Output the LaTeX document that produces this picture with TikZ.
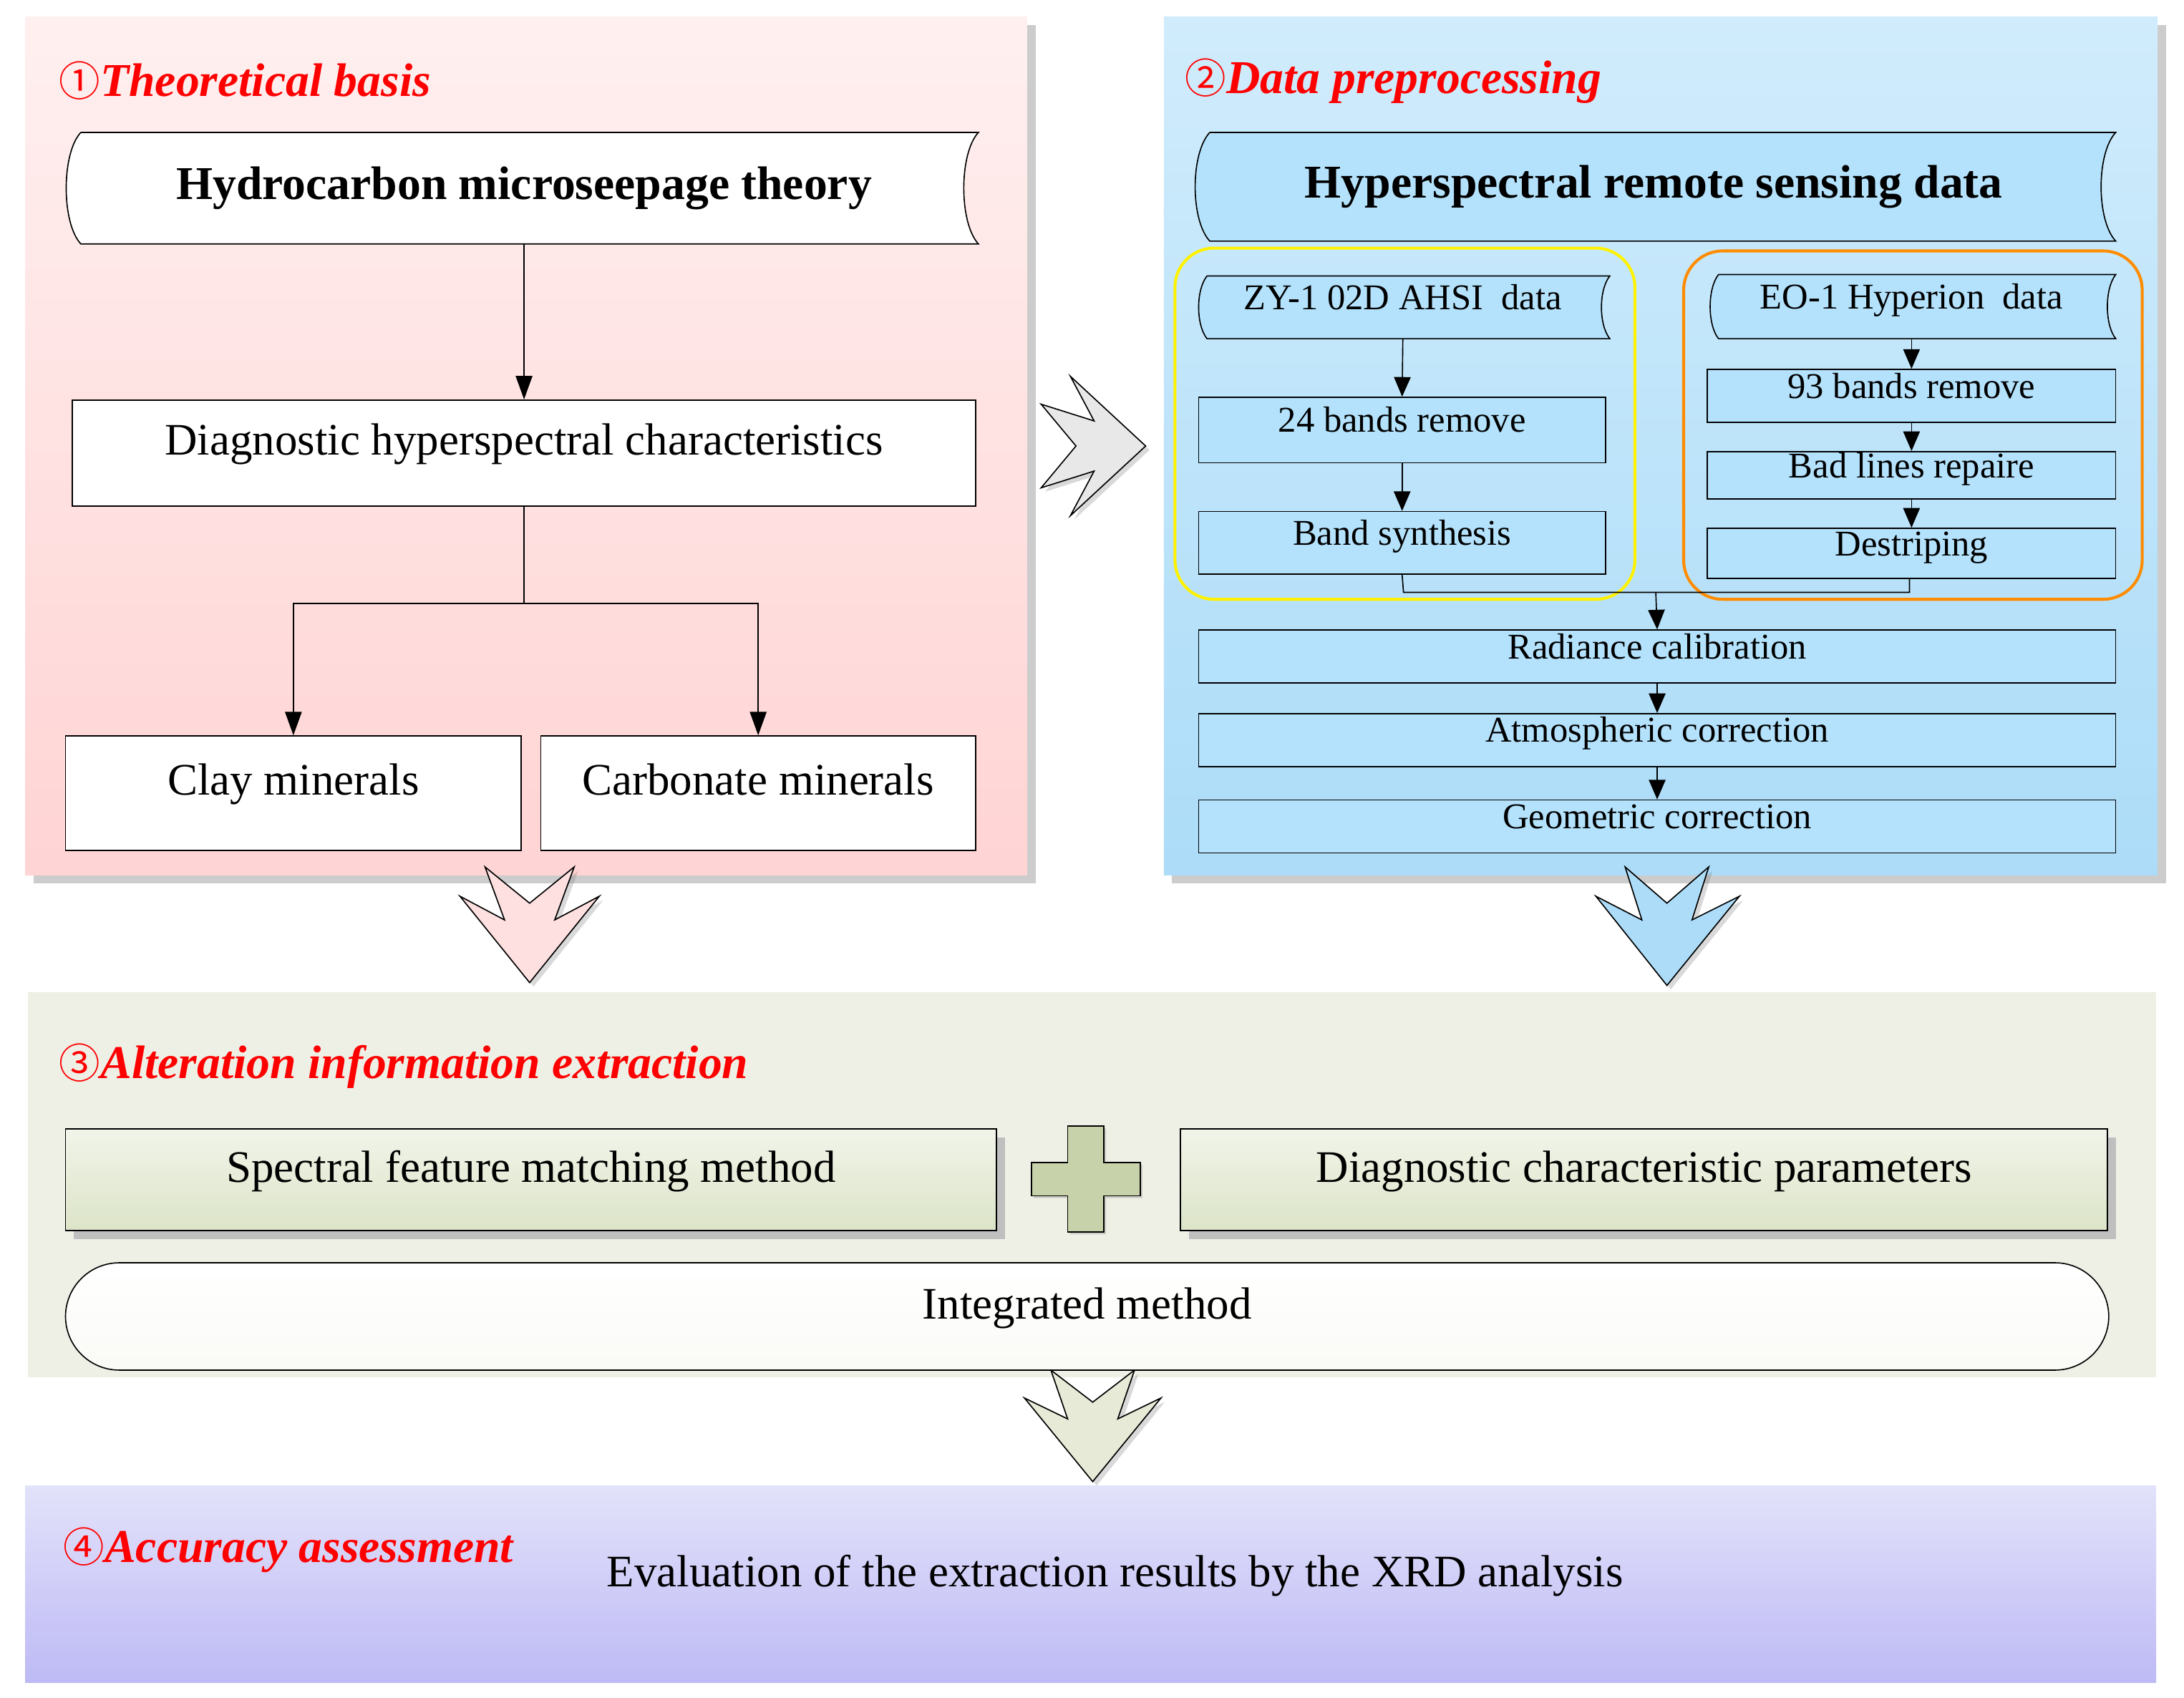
\documentclass[tikz,border=0pt]{standalone}
\usepackage{fontspec}
\setmainfont{Liberation Serif}
\newfontfamily\cjk{Noto Sans CJK SC}
\usetikzlibrary{fit,shadows,arrows.meta}
\definecolor{pg3}{RGB}{238,240,230}
\definecolor{b2t}{RGB}{208,236,252}
\definecolor{b2b}{RGB}{172,220,248}
\definecolor{p4t}{RGB}{226,226,250}
\definecolor{p4b}{RGB}{190,186,245}
\definecolor{bx}{RGB}{180,226,252}
\definecolor{gb}{RGB}{220,228,200}
\definecolor{pl}{RGB}{200,210,170}
\definecolor{ch3}{RGB}{230,234,214}
\newcommand{\cn}[1]{{\cjk\fontsize{42pt}{46pt}\selectfont\color{red}\mdseries\upshape#1}}
\begin{document}
\begin{tikzpicture}[x=0.05cm,y=-0.05cm,
  box/.style={draw,line width=1.2pt,inner sep=0pt,fill=#1},
  box/.default=white,
  hid/.style={inner sep=0pt},
  med/.style={font=\fontsize{46pt}{50pt}\selectfont,text depth=0.25em,text height=0.7em},
  sml/.style={font=\fontsize{37pt}{40pt}\selectfont,text depth=0.25em,text height=0.7em},
  ttl/.style={font=\fontsize{48pt}{52pt}\selectfont\bfseries\itshape,text=red,anchor=west},
  arr/.style={-{Triangle[length=24pt,width=17pt]},line width=1.2pt},
  sarr/.style={-{Triangle[length=20pt,width=17pt]},line width=1.2pt},
  chev/.style={draw,line width=1.2pt,drop shadow={opacity=0.3,shadow xshift=4pt,shadow yshift=-4pt}},
  tape/.style={draw,line width=1.2pt}]
\useasboundingbox (0,0) rectangle (1567,1218);
% panels
\fill[gray!40] (24,18) rectangle (743,634);
\shade[top color=red!6,bottom color=red!17] (18,12) rectangle (737,628);
\fill[gray!40] (841,18) rectangle (1554,634);
\shade[top color=b2t,bottom color=b2b] (835,12) rectangle (1548,628);
\fill[pg3] (20,712) rectangle (1547,988);
\shade[top color=p4t,bottom color=p4b] (18,1066) rectangle (1547,1207);
% titles
\node[ttl] (t1) at (40,58) {\cn{①}Theoretical basis};
\node[ttl] (t2) at (848,58) {\cn{②}Data preprocessing};
\node[ttl] (t3) at (40,765) {\cn{③}Alteration information extraction};
\node[ttl] (t4) at (43,1112) {\cn{④}Accuracy assessment};
% panel 1
\draw[tape,fill=white] (58,95) -- (702,95) .. controls (688,110) and (688,160) .. (702,175) -- (58,175) .. controls (44,160) and (44,110) .. (58,95);
\node[hid,fit={(50,95)(702,175)},label={center:{\fontsize{48pt}{52pt}\selectfont\bfseries Hydrocarbon microseepage theory}}] (hmt) {};
\node[box,fit={(52,287)(700,363)},label={[med]center:Diagnostic hyperspectral characteristics}] (dhc) {};
\node[box,fit={(47,528)(374,610)},label={[med]center:Clay minerals}] (clay) {};
\node[box,fit={(388,528)(700,610)},label={[med]center:Carbonate minerals}] (carb) {};
\draw[arr] (hmt.south) -- (dhc.north);
\coordinate (sp) at (376,433);
\draw[line width=1.2pt] (dhc.south) -- (sp);
\draw[arr] (sp) -| (clay.north);
\draw[arr] (sp) -| (carb.north);
% chevrons
\draw[chev,fill=red!12] (330,643) -- (362,660) -- (348,622) -- (380,648) -- (412,622) -- (398,660) -- (430,643) -- (380,705) -- cycle;
\draw[chev,fill=gray!18] (768,270) -- (822,320) -- (768,370) -- (785,338) -- (747,350) -- (772,320) -- (747,290) -- (785,302) -- cycle;
\draw[chev,fill=b2b] (1145,643) -- (1178,660) -- (1166,622) -- (1196,648) -- (1226,622) -- (1214,660) -- (1248,643) -- (1196,707) -- cycle;
\draw[chev,fill=ch3] (735,1003) -- (766,1018) -- (754,983) -- (784,1006) -- (814,983) -- (802,1018) -- (833,1003) -- (784,1063) -- cycle;
% panel 2
\draw[tape,fill=bx] (868,95) -- (1518,95) .. controls (1504,110) and (1504,158) .. (1518,173) -- (868,173) .. controls (854,158) and (854,110) .. (868,95);
\node[hid,fit={(855,95)(1518,173)},label={center:{\fontsize{48pt}{52pt}\selectfont\bfseries Hyperspectral remote sensing data}}] (hrs) {};
\draw[yellow,line width=3pt,rounded corners=40pt] (843,178) rectangle (1173,430);
\draw[orange!90!yellow,line width=3pt,rounded corners=40pt] (1208,180) rectangle (1537,430);
\draw[tape,fill=bx] (866,198) -- (1155,198) .. controls (1147,208) and (1147,233) .. (1155,243) -- (866,243) .. controls (858,233) and (858,208) .. (866,198);
\node[hid,fit={(858,198)(1155,243)},label={[sml]center:ZY-1 02D AHSI\ \ data}] (zy) {};
\node[box=bx,fit={(860,285)(1152,332)},label={[sml]center:24 bands remove}] (b24) {};
\node[box=bx,fit={(860,367)(1152,412)},label={[sml]center:Band synthesis}] (bs) {};
\draw[tape,fill=bx] (1233,197) -- (1518,197) .. controls (1510,207) and (1510,233) .. (1518,243) -- (1233,243) .. controls (1225,233) and (1225,207) .. (1233,197);
\node[hid,fit={(1225,197)(1518,243)},label={[sml]center:EO-1 Hyperion\ \ data}] (eo) {};
\node[box=bx,fit={(1225,265)(1518,303)},label={[sml]center:93 bands remove}] (b93) {};
\node[box=bx,fit={(1225,324)(1518,358)},label={[sml]center:Bad lines repaire}] (blr) {};
\node[box=bx,fit={(1225,379)(1518,415)},label={[sml]center:Destriping}] (ds) {};
\node[box=bx,fit={(860,452)(1518,490)},label={[sml]center:Radiance calibration}] (rc) {};
\node[box=bx,fit={(860,512)(1518,550)},label={[sml]center:Atmospheric correction}] (ac) {};
\node[box=bx,fit={(860,574)(1518,612)},label={[sml]center:Geometric correction}] (gc) {};
\draw[sarr] (zy.south) -- (b24.north);
\draw[sarr] (b24.south) -- (bs.north);
\draw[sarr] (eo.south) -- (b93.north);
\draw[sarr] (b93.south) -- (blr.north);
\draw[sarr] (blr.south) -- (ds.north);
\coordinate (j1) at (1007,425);
\coordinate (j2) at (1370,425);
\coordinate (jm) at (1188,425);
\draw[line width=1.2pt] (bs.south) -- (j1) -- (j2) -- (ds.south -| j2);
\draw[sarr] (jm) -- (rc.north);
\draw[sarr] (rc.south) -- (ac.north);
\draw[sarr] (ac.south) -- (gc.north);
% panel 3
\fill[gray!50] (53,816) rectangle (721,889);
\shade[top color=white!60!gb,bottom color=gb] (47,810) rectangle (715,883);
\draw[line width=1.2pt] (47,810) rectangle (715,883);
\node[hid,fit={(47,810)(715,883)},label={[med]center:Spectral feature matching method}] (sfm) {};
\fill[gray!50] (853,816) rectangle (1518,889);
\shade[top color=white!60!gb,bottom color=gb] (847,810) rectangle (1512,883);
\draw[line width=1.2pt] (847,810) rectangle (1512,883);
\node[hid,fit={(847,810)(1512,883)},label={[med]center:Diagnostic characteristic parameters}] (dcp) {};
\draw[line width=1.2pt,fill=pl,drop shadow={opacity=0.3}] (766,808) -- (792,808) -- (792,834) -- (818,834) -- (818,858) -- (792,858) -- (792,884) -- (766,884) -- (766,858) -- (740,858) -- (740,834) -- (766,834) -- cycle;
\shade[top color=white,bottom color=white!85!gb,rounded corners=55pt] (47,906) rectangle (1513,983);
\draw[line width=1.2pt,rounded corners=55pt] (47,906) rectangle (1513,983);
\node[hid,fit={(47,906)(1513,983)},label={[med]center:Integrated method}] (im) {};
% panel 4
\node[med] (ev) at (800,1137) {Evaluation of the extraction results by the XRD analysis};
\end{tikzpicture}
\end{document}
